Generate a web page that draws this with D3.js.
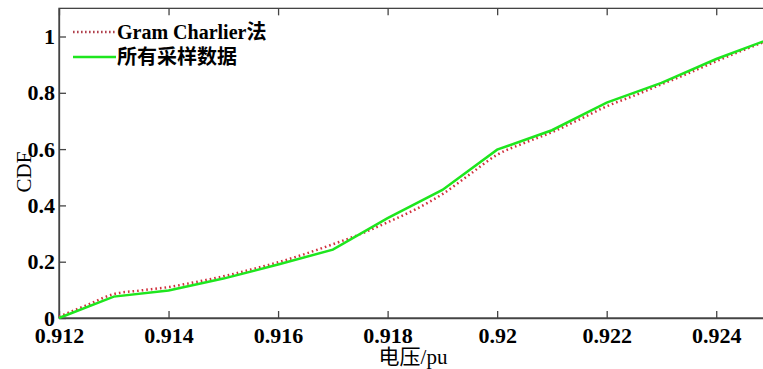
<!DOCTYPE html>
<html>
<head>
<meta charset="utf-8">
<script src="https://cdn.jsdelivr.net/npm/d3@7"></script>
<style>
  html, body { margin: 0; padding: 0; background: #fff; overflow: hidden; }
  svg { display: block; }
</style>
</head>
<body>
<svg id="chart" width="780" height="369"></svg>
<script>
// sampled data (piecewise linear)
const voltage = [0.912, 0.913, 0.914, 0.915, 0.916, 0.917, 0.918, 0.919, 0.92, 0.921, 0.922, 0.923, 0.924, 0.925];
const sampleCdf = [0, 0.076, 0.098, 0.14, 0.19, 0.243, 0.355, 0.455, 0.598, 0.667, 0.765, 0.835, 0.92, 0.993];

// Gram Charlier fit
const gcVoltage = [0.912, 0.9125, 0.913, 0.9135, 0.914, 0.9145, 0.915, 0.9155, 0.916, 0.9165, 0.917, 0.9175, 0.918, 0.9185,
  0.919, 0.9195, 0.92, 0.9205, 0.921, 0.9215, 0.922, 0.9225, 0.923, 0.9235, 0.924, 0.9245, 0.925];
const gcCdf = [0.005, 0.045, 0.085, 0.098, 0.11, 0.128, 0.148, 0.172, 0.198, 0.228, 0.262, 0.298, 0.34, 0.385,
  0.44, 0.51, 0.58, 0.622, 0.66, 0.705, 0.752, 0.79, 0.83, 0.87, 0.912, 0.952, 0.99];

const xTicks = [0.912, 0.914, 0.916, 0.918, 0.92, 0.922, 0.924];
const yTicks = [0, 0.2, 0.4, 0.6, 0.8, 1];
const legendNames = ['Gram Charlier法', '所有采样数据'];

const serif = '"Liberation Serif", "Noto Sans CJK SC", serif';

const svg = d3.select('#chart');
const margin = { left: 59 };
const plotRight = 771;

const x = d3.scaleLinear().domain([0.912, 0.925]).range([margin.left, plotRight]);
const y = d3.scaleLinear().domain([0, 1.1]).range([318, 318 - 1.1 * 281.5]);

const axisColor = '#444';

// frame
svg.append('rect')
  .attr('x', margin.left).attr('y', y(1.1))
  .attr('width', plotRight - margin.left).attr('height', y(0) - y(1.1))
  .attr('fill', 'none').attr('stroke', axisColor).attr('stroke-width', 1.3);

// bottom axis
const gx = svg.append('g').attr('transform', 'translate(0,' + y(0) + ')')
  .call(d3.axisBottom(x).tickValues(xTicks).tickSizeInner(-7).tickSizeOuter(0).tickPadding(9)
    .tickFormat(d => String(+d.toFixed(3))));
gx.attr('font-family', serif);
gx.select('.domain').attr('stroke', axisColor).attr('stroke-width', 1.3);
gx.selectAll('line').attr('stroke', axisColor).attr('stroke-width', 1.3);
gx.selectAll('text').attr('font-size', 22).attr('fill', '#000').attr('font-weight', 'bold').attr('dy', '0.71em');

// top ticks
const gxt = svg.append('g').attr('transform', 'translate(0,' + y(1.1) + ')')
  .call(d3.axisTop(x).tickValues(xTicks).tickSizeInner(-7).tickSizeOuter(0).tickFormat(''));
gxt.select('.domain').remove();
gxt.selectAll('line').attr('stroke', axisColor).attr('stroke-width', 1.3);

// left axis
const gy = svg.append('g').attr('transform', 'translate(' + margin.left + ',0)')
  .call(d3.axisLeft(y).tickValues(yTicks).tickSizeInner(-7).tickSizeOuter(0).tickPadding(4)
    .tickFormat(d => String(+d.toFixed(1))));
gy.attr('font-family', serif);
gy.select('.domain').attr('stroke', axisColor).attr('stroke-width', 1.3);
gy.selectAll('line').attr('stroke', axisColor).attr('stroke-width', 1.3);
gy.selectAll('text').attr('font-size', 22).attr('fill', '#000').attr('font-weight', 'bold');

// lines
const sampleLine = d3.line().x((d, i) => x(voltage[i])).y(d => y(d));
const gcLine = d3.line().x((d, i) => x(gcVoltage[i])).y(d => y(d)).curve(d3.curveMonotoneX);

svg.append('path').datum(gcCdf)
  .attr('d', gcLine).attr('fill', 'none')
  .attr('stroke', '#d0303c').attr('stroke-width', 2.5).attr('stroke-dasharray', '1.6,3');

svg.append('path').datum(sampleCdf)
  .attr('d', sampleLine).attr('fill', 'none')
  .attr('stroke', '#1ee61e').attr('stroke-width', 2.5);

// legend
const legend = svg.append('g').attr('font-family', serif);
legend.append('line').attr('x1', 73).attr('x2', 116).attr('y1', 32).attr('y2', 32)
  .attr('stroke', '#b0404c').attr('stroke-width', 2.5).attr('stroke-dasharray', '1.6,2.4');
legend.append('line').attr('x1', 73).attr('x2', 116).attr('y1', 57).attr('y2', 57)
  .attr('stroke', '#1ee61e').attr('stroke-width', 2.5);
legend.selectAll('text.lg').data(legendNames).enter().append('text')
  .attr('class', 'lg')
  .attr('x', 117).attr('y', (d, i) => 39 + i * 25)
  .attr('font-size', 20).attr('font-weight', 'bold').attr('fill', '#000')
  .text(d => d);

// axis titles
svg.append('text')
  .attr('transform', 'translate(31,172) rotate(-90)')
  .attr('text-anchor', 'middle').attr('font-size', 21).attr('fill', '#000')
  .attr('font-family', serif)
  .text('CDF');
svg.append('text')
  .attr('x', 413).attr('y', 364)
  .attr('text-anchor', 'middle').attr('font-size', 21).attr('fill', '#000')
  .attr('font-family', serif)
  .text('电压/pu');
</script>
</body>
</html>
